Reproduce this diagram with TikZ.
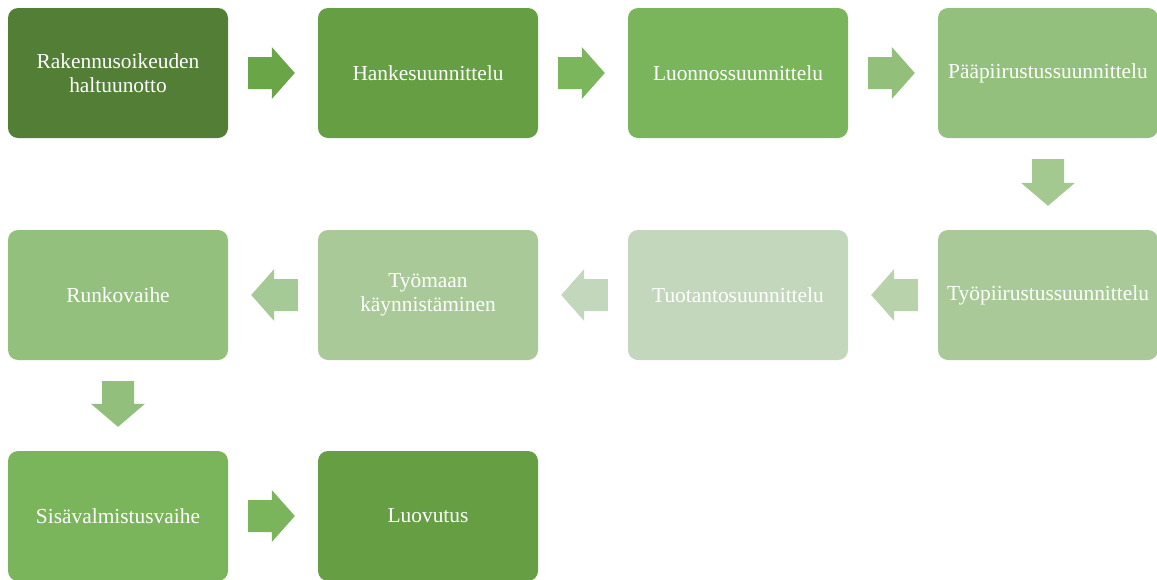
\documentclass[tikz,border=0pt]{standalone}
\usepackage{fontspec}
\setmainfont{Liberation Serif}
\usetikzlibrary{calc}

% step colours
\definecolor{gA}{HTML}{527E35}
\definecolor{gB}{HTML}{669E44}
\definecolor{gC}{HTML}{7AB55C}
\definecolor{gD}{HTML}{94C07E}
\definecolor{gE}{HTML}{A9CA98}
\definecolor{gF}{HTML}{C3D7BC}
% connector colours
\definecolor{aA}{HTML}{6AA548}
\definecolor{aB}{HTML}{7BB65D}
\definecolor{aC}{HTML}{92C07B}
\definecolor{aD}{HTML}{A3C890}
\definecolor{aE}{HTML}{B8D3AC}
\definecolor{aF}{HTML}{C3D7BC}
\definecolor{aG}{HTML}{A6CA95}
\definecolor{aH}{HTML}{93BF7D}
\definecolor{aI}{HTML}{7AB55C}

\tikzset{
  stepbox/.style={rounded corners=10pt, minimum width=220pt, minimum height=130pt,
    inner sep=0pt, text width=210pt, align=center, text=white,
    font=\fontsize{21.4}{23.5}\selectfont},
}

% block arrows between named nodes: colour, from, to
% shaft half width 16pt, head half width 26pt, head length 23pt
\newcommand\blockR[3]{%
  \fill[#1] let \p1=(#2.east), \p2=(#3.west) in
    (\x1+20pt,\y1+16pt) -- (\x2-46pt,\y1+16pt) -- (\x2-46pt,\y1+26pt) --
    (\x2-23pt,\y1) -- (\x2-46pt,\y1-26pt) -- (\x2-46pt,\y1-16pt) --
    (\x1+20pt,\y1-16pt) -- cycle;}
\newcommand\blockL[3]{%
  \fill[#1] let \p1=(#2.west), \p2=(#3.east) in
    (\x1-20pt,\y1+16pt) -- (\x2+46pt,\y1+16pt) -- (\x2+46pt,\y1+26pt) --
    (\x2+23pt,\y1) -- (\x2+46pt,\y1-26pt) -- (\x2+46pt,\y1-16pt) --
    (\x1-20pt,\y1-16pt) -- cycle;}
\newcommand\blockD[3]{%
  \fill[#1] let \p1=(#2.south), \p2=(#3.north) in
    (\x1-16pt,\y1-21pt) -- (\x1-16pt,\y2+47pt) -- (\x1-27pt,\y2+47pt) --
    (\x1,\y2+24pt) -- (\x1+27pt,\y2+47pt) -- (\x1+16pt,\y2+47pt) --
    (\x1+16pt,\y1-21pt) -- cycle;}

\begin{document}
\begin{tikzpicture}[x=1pt,y=1pt]
  \useasboundingbox (0,0) rectangle (1157,-579);

  % first row
  \node[stepbox, fill=gA] (s1) at (118,-73)  {Rakennusoikeuden\\haltuunotto};
  \node[stepbox, fill=gB] (s2) at (428,-73)  {Hankesuunnittelu};
  \node[stepbox, fill=gC] (s3) at (738,-73)  {Luonnossuunnittelu};
  \node[stepbox, fill=gD] (s4) at (1048,-73) {Pääpiirustussuunnittelu};
  % second row
  \node[stepbox, fill=gE] (s5) at (1048,-295) {Työpiirustussuunnittelu};
  \node[stepbox, fill=gF] (s6) at (738,-295)  {Tuotantosuunnittelu};
  \node[stepbox, fill=gE] (s7) at (428,-295)  {Työmaan\\käynnistäminen};
  \node[stepbox, fill=gD] (s8) at (118,-295)  {Runkovaihe};
  % third row
  \node[stepbox, fill=gC] (s9)  at (118,-516) {Sisävalmistusvaihe};
  \node[stepbox, fill=gB] (s10) at (428,-516) {Luovutus};

  \blockR{aA}{s1}{s2}
  \blockR{aB}{s2}{s3}
  \blockR{aC}{s3}{s4}
  \blockD{aD}{s4}{s5}
  \blockL{aE}{s5}{s6}
  \blockL{aF}{s6}{s7}
  \blockL{aG}{s7}{s8}
  \blockD{aH}{s8}{s9}
  \blockR{aI}{s9}{s10}
\end{tikzpicture}
\end{document}
